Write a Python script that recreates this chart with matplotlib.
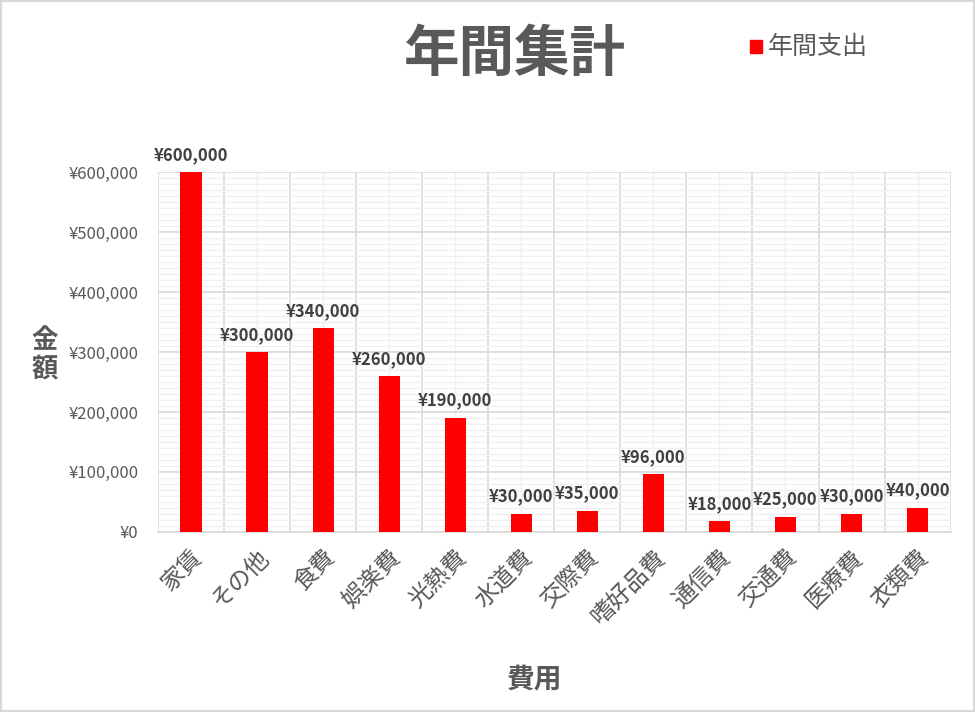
import matplotlib
matplotlib.use("Agg")
import matplotlib.pyplot as plt
import numpy as np
from matplotlib.ticker import FuncFormatter, MultipleLocator
from matplotlib.patches import Rectangle

plt.rcParams['font.family'] = ['Noto Sans CJK JP', 'DejaVu Sans']

# data
categories = ["家賃", "その他", "食費", "娯楽費", "光熱費", "水道費", "交際費",
              "嗜好品費", "通信費", "交通費", "医療費", "衣類費"]
spending = [600000, 300000, 340000, 260000, 190000, 30000, 35000,
            96000, 18000, 25000, 30000, 40000]
series_name = "年間支出"

gray = "#595959"
fig = plt.figure(figsize=(9.75, 7.12), dpi=100)
ax = fig.add_axes([0.162, 0.253, 0.813, 0.505])

x = np.arange(len(categories))
bars = ax.bar(x, spending, width=0.32, color="#ff0000", zorder=3)

# value labels above each bar
for xi, v in zip(x, spending):
    ax.annotate("¥{:,}".format(v), (xi, v), xytext=(0, 6), textcoords="offset points",
                ha="center", va="bottom", fontsize=12, fontweight="bold", color="#404040")

ax.set_xlim(-0.5, len(categories) - 0.5)
ax.set_ylim(0, 600000)

# y axis: major every 100k, minor every 10k
ax.yaxis.set_major_locator(MultipleLocator(100000))
ax.yaxis.set_minor_locator(MultipleLocator(10000))
ax.yaxis.set_major_formatter(FuncFormatter(lambda v, p: "¥{:,}".format(int(v))))

# x axis: labels at centres, major grid at category boundaries
ax.set_xticks(x)
ax.set_xticks(np.arange(len(categories) + 1) - 0.5, minor=True)
ax.set_xticklabels(categories, rotation=45, ha="right", va="top",
                   rotation_mode="anchor", fontsize=17, color=gray)

ax.grid(True, axis="y", which="major", color="#d9d9d9", lw=1.2, zorder=0)
ax.grid(True, axis="y", which="minor", color="#f0f0f0", lw=1.0, zorder=0)
ax.grid(True, axis="x", which="minor", color="#d9d9d9", lw=1.2, zorder=0)
ax.grid(True, axis="x", which="major", color="#f0f0f0", lw=1.0, zorder=0)
ax.set_axisbelow(True)

ax.tick_params(axis="both", which="both", length=0)
ax.tick_params(axis="y", labelsize=12, labelcolor=gray, pad=14)
ax.tick_params(axis="x", pad=10)
for s in ax.spines.values():
    s.set_visible(False)
ax.spines["bottom"].set_visible(True)
ax.spines["bottom"].set_color("#d9d9d9")
ax.spines["bottom"].set_linewidth(1.2)

# title, legend and axis titles
fig.text(0.528, 0.923, "年間集計", ha="center", va="center", fontsize=40,
         fontweight="bold", color=gray)
fig.patches.append(Rectangle((750 / 975, 1 - 53 / 712), 12 / 975, 13 / 712,
                             transform=fig.transFigure, color="#ff0000"))
fig.text(768 / 975, 1 - 47 / 712, series_name, ha="left", va="center",
         fontsize=18, color=gray)
fig.text(45 / 975, 1 - 355 / 712, "金\n額", ha="center", va="center",
         fontsize=19, fontweight="bold", color=gray, linespacing=1.05)
fig.text(535 / 975, 1 - 680 / 712, "費用", ha="center", va="center",
         fontsize=20, fontweight="bold", color=gray)

# light frame around the whole chart
fig.patches.append(Rectangle((0.001, 0.001), 0.998, 0.998, transform=fig.transFigure,
                             fill=False, edgecolor="#d9d9d9", lw=1.5))

fig.savefig("out.png", dpi=100, facecolor="white")
